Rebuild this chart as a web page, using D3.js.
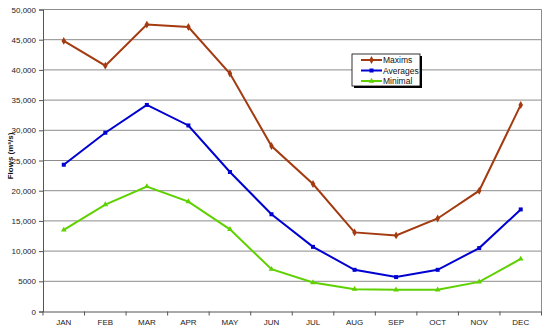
<!DOCTYPE html>
<html><head><meta charset="utf-8">
<script src="https://cdn.jsdelivr.net/npm/d3@7"></script>
<style>body{margin:0;background:#fff}svg{display:block;font-family:Arial,"Liberation Sans",sans-serif}</style>
</head><body><svg id="c" width="550" height="332"></svg>
<script>
const months = ["JAN","FEB","MAR","APR","MAY","JUN","JUL","AUG","SEP","OCT","NOV","DEC"];
const maxims = [44800,40700,47500,47100,39400,27400,21100,13100,12600,15400,20000,34200];
const averages = [24300,29600,34200,30800,23100,16100,10700,6900,5700,6900,10500,16900];
const minimal = [13500,17700,20700,18200,13600,7000,4800,3700,3600,3600,4900,8700];
const yTicks = [0,5000,10000,15000,20000,25000,30000,35000,40000,45000,50000];
const seriesNames = ["Maxims","Averages","Minimal"];
const seriesColors = ["#A33A10","#0000D0","#5FD100"];

const svg = d3.select("#c");
const L=43, R=541.5, T=9.5, B=311.5;
const x = d3.scaleBand().domain(months).range([L,R]);
const y = d3.scaleLinear().domain([0,50000]).range([B,T]);
const fmt = v => v===0?"0":(v<10000?String(v):d3.format(",")(v));

// gridlines
svg.append("g").selectAll("line").data(yTicks.filter(v=>v>0)).join("line")
  .attr("x1",L).attr("x2",R).attr("y1",d=>y(d)).attr("y2",d=>y(d))
  .attr("stroke","#8c8c8c").attr("stroke-width",1);
svg.append("line").attr("x1",R).attr("x2",R).attr("y1",T).attr("y2",B).attr("stroke","#8c8c8c");

// y axis
const ya = svg.append("g").attr("transform",`translate(${L},0)`)
  .call(d3.axisLeft(y).tickValues(yTicks).tickFormat(fmt).tickSize(4).tickPadding(3));
ya.select(".domain").attr("stroke","#555");
ya.selectAll(".tick line").attr("stroke","#555");
ya.selectAll("text").attr("font-size",8).attr("fill","#222").attr("font-family","Arial");

// x axis
const xa = svg.append("g").attr("transform",`translate(0,${B})`)
  .call(d3.axisBottom(x).tickSize(0).tickPadding(8));
xa.select(".domain").attr("stroke","#555");
xa.selectAll("text").attr("font-size",8).attr("fill","#222").attr("font-family","Arial");
svg.append("g").selectAll("line").data(months.map((m,i)=>i).concat([12])).join("line")
  .attr("x1",i=>L+i*x.step()).attr("x2",i=>L+i*x.step())
  .attr("y1",B).attr("y2",B+4).attr("stroke","#555");

// y label
svg.append("text").attr("transform","translate(13,156) rotate(-90)")
  .attr("text-anchor","middle").attr("font-size",8).attr("font-weight","bold").attr("fill","#111")
  .text("Flows (m³/s)");

const data = [maxims,averages,minimal];
const cx = i => x(months[i]) + x.bandwidth()/2;
const line = d3.line().x((d,i)=>cx(i)).y(d=>y(d));
data.forEach((s,k)=>{
  const g = svg.append("g");
  g.append("path").attr("d",line(s)).attr("fill","none").attr("stroke",seriesColors[k]).attr("stroke-width",2);
  const sym = [d3.symbolDiamond,d3.symbolSquare,d3.symbolTriangle][k];
  const sz = [18,16,14][k];
  g.selectAll("path.m").data(s).join("path").attr("class","m")
    .attr("transform",(d,i)=>`translate(${cx(i)},${y(d)})`)
    .attr("d",d3.symbol(sym,sz)).attr("fill",seriesColors[k]);
});

// legend
const lg = svg.append("g").attr("transform","translate(352,54)");
lg.append("rect").attr("x",2).attr("y",2).attr("width",68).attr("height",32).attr("fill","#000");
lg.append("rect").attr("x",0).attr("y",0).attr("width",68).attr("height",32).attr("fill","#fff").attr("stroke","#000").attr("stroke-width",0.8);
seriesNames.forEach((n,k)=>{
  const yy = 6+k*10.5;
  lg.append("line").attr("x1",9).attr("x2",30).attr("y1",yy).attr("y2",yy).attr("stroke",seriesColors[k]).attr("stroke-width",2);
  lg.append("path").attr("transform",`translate(19.5,${yy})`).attr("d",d3.symbol([d3.symbolDiamond,d3.symbolSquare,d3.symbolTriangle][k],[18,16,14][k])).attr("fill",seriesColors[k]);
  lg.append("text").attr("x",31).attr("y",yy+3).attr("font-size",8.5).attr("fill","#111").text(n);
});
</script></body></html>
